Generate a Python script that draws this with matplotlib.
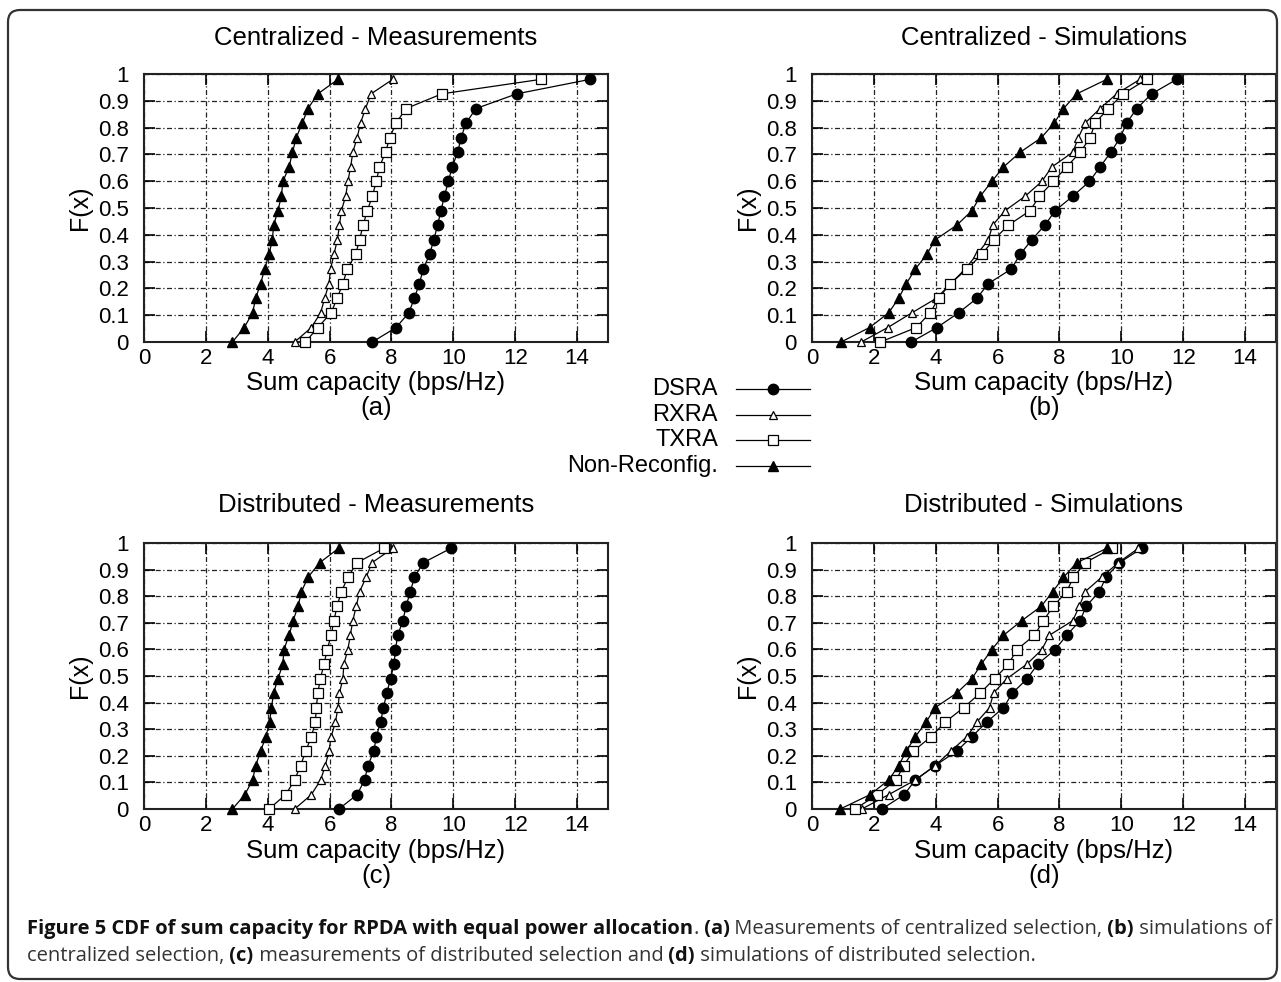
import matplotlib
matplotlib.use('Agg')
import matplotlib.pyplot as plt
from matplotlib.lines import Line2D
from matplotlib.patches import FancyBboxPatch
from matplotlib.transforms import IdentityTransform
from matplotlib import font_manager

W, H = 1281, 982
plt.rcParams['font.family'] = ['Liberation Sans', 'DejaVu Sans']

# ---------------- data ----------------
cdf_levels = [0.0, 0.054, 0.109, 0.163, 0.218, 0.272, 0.327, 0.381, 0.436, 0.490,
              0.544, 0.599, 0.653, 0.708, 0.762, 0.817, 0.871, 0.926, 0.980]

series_names = ['DSRA', 'RXRA', 'TXRA', 'Non-Reconfig.']

# (a) Centralized - Measurements
a_dsra = [7.38, 8.15, 8.56, 8.74, 8.90, 9.03, 9.23, 9.37, 9.49, 9.60,
          9.71, 9.84, 9.96, 10.14, 10.25, 10.41, 10.73, 12.05, 14.42]
a_rxra = [4.87, 5.41, 5.71, 5.84, 5.98, 6.03, 6.14, 6.25, 6.32, 6.38,
          6.52, 6.59, 6.68, 6.75, 6.89, 7.00, 7.16, 7.34, 8.04]
a_txra = [5.22, 5.62, 6.05, 6.24, 6.43, 6.57, 6.84, 6.97, 7.08, 7.22,
          7.38, 7.51, 7.61, 7.81, 7.94, 8.15, 8.47, 9.63, 12.83]
a_nonrec = [2.86, 3.24, 3.51, 3.61, 3.77, 3.90, 4.04, 4.15, 4.19, 4.33,
            4.44, 4.49, 4.69, 4.80, 4.92, 5.12, 5.30, 5.62, 6.27]

# (b) Centralized - Simulations
b_dsra = [3.21, 4.04, 4.74, 5.33, 5.70, 6.44, 6.73, 7.10, 7.53, 7.86,
          8.43, 8.97, 9.31, 9.66, 9.96, 10.17, 10.50, 10.98, 11.79]
b_rxra = [1.59, 2.45, 3.23, 4.02, 4.49, 4.95, 5.33, 5.70, 5.84, 6.24,
          6.89, 7.43, 7.75, 8.43, 8.61, 8.83, 9.31, 9.85, 10.60]
b_txra = [2.21, 3.37, 3.82, 4.09, 4.47, 5.01, 5.49, 5.87, 6.35, 7.05,
          7.35, 7.80, 8.23, 8.67, 8.99, 9.15, 9.58, 10.06, 10.82]
b_nonrec = [0.94, 1.86, 2.48, 2.80, 3.05, 3.34, 3.71, 3.98, 4.68, 5.17,
            5.44, 5.81, 6.19, 6.73, 7.41, 7.83, 8.13, 8.56, 9.53]

# (c) Distributed - Measurements
c_dsra = [6.30, 6.89, 7.13, 7.24, 7.43, 7.51, 7.65, 7.74, 7.85, 7.97,
          8.08, 8.13, 8.20, 8.37, 8.47, 8.61, 8.74, 9.03, 9.92]
c_rxra = [4.87, 5.41, 5.71, 5.86, 5.98, 6.05, 6.19, 6.27, 6.32, 6.43,
          6.46, 6.59, 6.67, 6.75, 6.86, 6.97, 7.18, 7.37, 8.04]
c_txra = [4.04, 4.58, 4.87, 5.06, 5.23, 5.41, 5.54, 5.57, 5.62, 5.70,
          5.82, 5.92, 6.05, 6.14, 6.24, 6.38, 6.59, 6.89, 7.75]
c_nonrec = [2.86, 3.26, 3.51, 3.61, 3.77, 3.94, 4.06, 4.12, 4.19, 4.33,
            4.49, 4.52, 4.69, 4.82, 4.98, 5.09, 5.30, 5.68, 6.29]

# (d) Distributed - Simulations
d_dsra = [2.26, 2.98, 3.34, 3.98, 4.68, 5.17, 5.65, 6.19, 6.48, 6.96,
          7.29, 7.86, 8.23, 8.67, 8.86, 9.29, 9.50, 9.94, 10.66]
d_rxra = [1.61, 2.48, 3.34, 3.98, 4.49, 5.01, 5.33, 5.74, 5.87, 6.30,
          6.94, 7.43, 7.67, 8.43, 8.64, 8.83, 9.36, 9.90, 10.55]
d_txra = [1.40, 2.10, 2.72, 2.96, 3.28, 3.85, 4.31, 4.90, 5.44, 5.90,
          6.35, 6.62, 7.19, 7.48, 7.80, 8.23, 8.45, 8.83, 9.69]
d_nonrec = [0.91, 1.88, 2.48, 2.80, 3.05, 3.34, 3.69, 3.98, 4.68, 5.17,
            5.47, 5.81, 6.19, 6.78, 7.41, 7.78, 8.13, 8.56, 9.53]

panel_titles = ['Centralized - Measurements', 'Centralized - Simulations',
                'Distributed - Measurements', 'Distributed - Simulations']
panel_tags = ['(a)', '(b)', '(c)', '(d)']
panel_data = [
    [a_dsra, a_rxra, a_txra, a_nonrec],
    [b_dsra, b_rxra, b_txra, b_nonrec],
    [c_dsra, c_rxra, c_txra, c_nonrec],
    [d_dsra, d_rxra, d_txra, d_nonrec],
]

x_ticks = [0, 2, 4, 6, 8, 10, 12, 14]
y_ticks = [0, 0.1, 0.2, 0.3, 0.4, 0.5, 0.6, 0.7, 0.8, 0.9, 1.0]
y_tick_labels = ['0', '0.1', '0.2', '0.3', '0.4', '0.5', '0.6', '0.7', '0.8', '0.9', '1']

# ---------------- styles ----------------
styles = [
    dict(marker='o', markersize=7.5, markerfacecolor='black', markeredgecolor='black'),
    dict(marker='^', markersize=6, markerfacecolor='white', markeredgecolor='black', markeredgewidth=0.9),
    dict(marker='s', markersize=7, markerfacecolor='white', markeredgecolor='black', markeredgewidth=0.9),
    dict(marker='^', markersize=7.5, markerfacecolor='black', markeredgecolor='black'),
]

# axes boxes in pixels: left, top, right, bottom
boxes = [(144, 74, 608, 342), (812, 74, 1276, 342),
         (144, 543, 608, 809), (812, 543, 1276, 809)]
title_y = [38, 38, 505, 505]
xlabel_y = [383, 383, 851, 851]
tag_y = [408, 408, 876, 876]

fig = plt.figure(figsize=(W / 100, H / 100), dpi=100)

def fx(px):
    return px / W

def fy(py):
    return 1 - py / H

for i, (l, t, r, b) in enumerate(boxes):
    ax = fig.add_axes([fx(l), fy(b), (r - l) / W, (b - t) / H])
    for vals, st in zip(panel_data[i], styles):
        ax.plot(vals, cdf_levels, color='black', linewidth=0.9, clip_on=False, zorder=3, **st)
    ax.set_xlim(0, 15)
    ax.set_ylim(0, 1)
    ax.set_xticks(x_ticks)
    ax.set_xticklabels([str(v) for v in x_ticks])
    ax.set_yticks(y_ticks)
    ax.set_yticklabels(y_tick_labels)
    ax.grid(True, color='#222222', linestyle=(0, (4, 2, 1, 2)), linewidth=0.9)
    ax.tick_params(direction='in', length=8, width=1.2, top=True, right=True,
                   labelsize=16, colors='black')
    ax.tick_params(axis='x', pad=4)
    ax.tick_params(axis='y', pad=11)
    for sp in ax.spines.values():
        sp.set_linewidth(1.5)
        sp.set_color('#222222')
    ax.set_ylabel('F(x)', fontsize=18, va='center')
    ax.yaxis.set_label_coords(-64 / (r - l), 0.5)
    cx = (l + r) / 2
    fig.text(fx(cx), fy(title_y[i]), panel_titles[i], ha='center', va='center', fontsize=18.5)
    fig.text(fx(cx), fy(xlabel_y[i]), 'Sum capacity (bps/Hz)', ha='center', va='center', fontsize=18.5)
    fig.text(fx(cx), fy(tag_y[i]), panel_tags[i], ha='center', va='center', fontsize=18.5)

# ---------------- legend (centre of figure) ----------------
legend_rows = [389, 415, 440, 466]
for name, st, yy in zip(series_names, styles, legend_rows):
    fig.text(fx(718), fy(yy), name, ha='right', va='center', fontsize=17)
    ln = Line2D([fx(736), fx(773), fx(810)], [fy(yy)] * 3, transform=fig.transFigure,
                color='black', linewidth=0.9, markevery=[1], **st)
    fig.add_artist(ln)

# ---------------- caption ----------------
installed = {f.name for f in font_manager.fontManager.ttflist}
cap_font = [f for f in ['Liberation Sans Narrow', 'Open Sans'] if f in installed] + ['DejaVu Sans']
line1 = [("Figure 5 CDF of sum capacity for RPDA with equal power allocation", True),
         (".", False), (" (a)", True), (" Measurements of centralized selection,", False),
         (" (b)", True), (" simulations of", False)]
line2 = [("centralized selection,", False), (" (c)", True),
         (" measurements of distributed selection and", False), (" (d)", True),
         (" simulations of distributed selection.", False)]

renderer = fig.canvas.get_renderer()

def place(segs, y, size, draw=True):
    x = 27
    made = []
    for txt, bold in segs:
        tt = fig.text(fx(x), fy(y), txt, fontsize=size, family=cap_font,
                      fontweight='bold' if bold else 'normal',
                      ha='left', va='baseline',
                      color='#111111' if bold else '#333333')
        x += tt.get_window_extent(renderer).width
        made.append(tt)
    if not draw:
        for tt in made:
            tt.remove()
    return x

base_size = 13
end = place(line1, 934, base_size, draw=False)
size = min(15, base_size * (1267 - 27) / (end - 27))
place(line1, 934, size)
place(line2, 961, size)

# ---------------- rounded frame ----------------
frame = FancyBboxPatch((8, H - 979), 1277 - 8, 979 - 10,
                       boxstyle='round,pad=0,rounding_size=12',
                       transform=IdentityTransform(), fill=False,
                       edgecolor='#333333', linewidth=1.6)
fig.add_artist(frame)

fig.savefig('out.png', dpi=100)
